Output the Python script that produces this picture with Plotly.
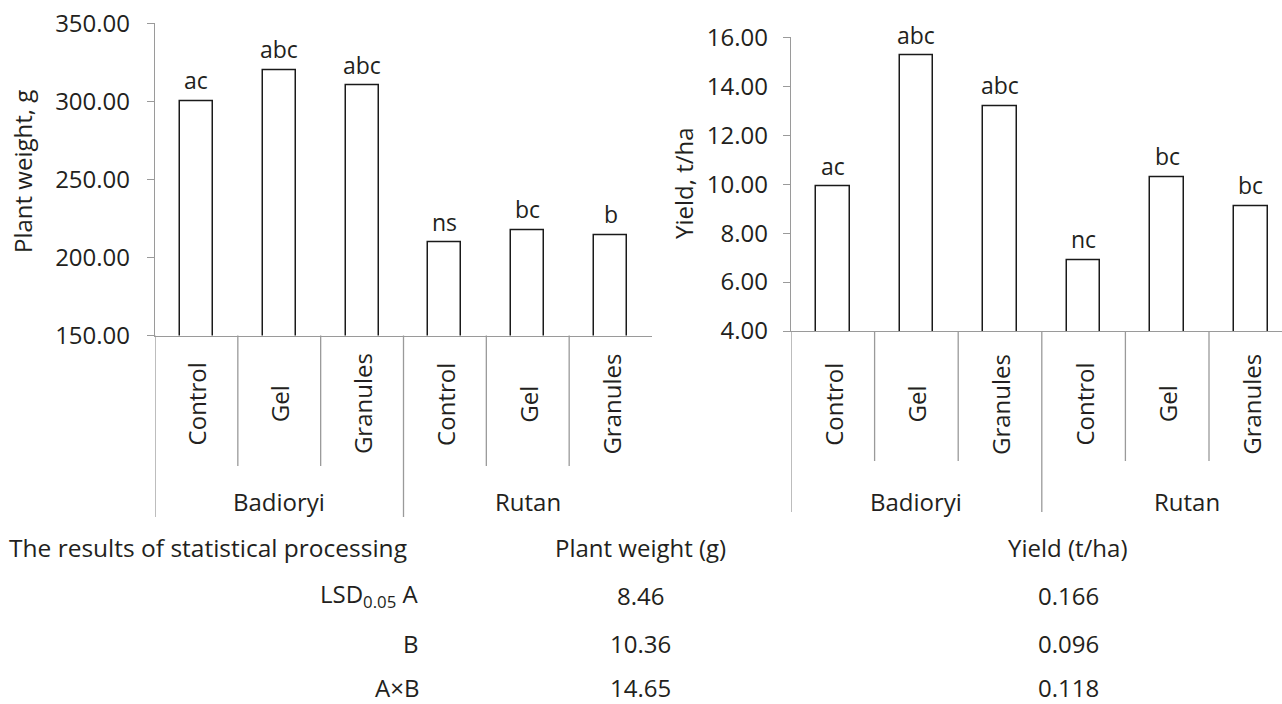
import plotly.graph_objects as go

# ---------------- data ----------------
treatments = ["Control", "Gel", "Granules", "Control", "Gel", "Granules"]
varieties = ["Badioryi", "Rutan"]
plant_weight = [300.0, 320.0, 310.0, 209.5, 217.5, 214.5]
plant_weight_letters = ["ac", "abc", "abc", "ns", "bc", "b"]
yield_tha = [9.9, 15.25, 13.2, 6.9, 10.3, 9.1]
yield_letters = ["ac", "abc", "abc", "nc", "bc", "bc"]

table_rows = ["The results of statistical processing", "LSD<sub>0.05</sub> A", "B", "A×B"]
table_col_pw = ["Plant weight (g)", "8.46", "10.36", "14.65"]
table_col_y = ["Yield (t/ha)", "0.166", "0.096", "0.118"]

# ---------------- layout helpers ----------------
W, H = 1282, 704
FONT = "Open Sans"
TXT = "#231f20"
GRID = "#9a9a9a"


def fx(p):
    return p / W


def fy(p):
    return 1 - p / H


idx = list(range(len(treatments)))

fig = go.Figure()
fig.add_trace(go.Bar(x=idx, y=plant_weight, width=0.4, xaxis="x", yaxis="y",
                     marker=dict(color="white", line=dict(color="#1a1a1a", width=1.5)),
                     showlegend=False, hoverinfo="y"))
fig.add_trace(go.Bar(x=idx, y=yield_tha, width=0.4, xaxis="x2", yaxis="y2",
                     marker=dict(color="white", line=dict(color="#1a1a1a", width=1.5)),
                     showlegend=False, hoverinfo="y"))

# pixel geometry of the two plot areas
L = dict(x0=155, x1=652, ytop=23.3, ybot=335.5)
R = dict(x0=791, ytop=37.3, ybot=331.0)
cat_w_right = 83.6
right_range_max = -0.5 + (W - R["x0"]) / cat_w_right

axis_common = dict(showgrid=False, zeroline=False, showline=True, linecolor=GRID, linewidth=1.3,
                   automargin=False)
yaxis_common = dict(ticks="outside", ticklen=7, tickcolor=GRID, tickwidth=1.3,
                    ticklabeloverflow="allow", tickformat=".2f",
                    tickfont=dict(size=24, color=TXT))

fig.update_layout(
    width=W, height=H,
    margin=dict(l=0, r=0, t=0, b=0, autoexpand=False),
    paper_bgcolor="white", plot_bgcolor="white",
    font=dict(family=FONT, size=24, color=TXT),
    bargap=0,
    xaxis=dict(domain=[fx(L["x0"]), fx(L["x1"])], range=[-0.5, 5.5], showticklabels=False,
               ticks="", anchor="y", **axis_common),
    yaxis=dict(domain=[fy(L["ybot"]), fy(L["ytop"])], range=[150, 350], dtick=50,
               ticklabelstandoff=12, anchor="x", **yaxis_common, **axis_common),
    xaxis2=dict(domain=[fx(R["x0"]), 1.0], range=[-0.5, right_range_max], showticklabels=False,
                ticks="", anchor="y2", **axis_common),
    yaxis2=dict(domain=[fy(R["ybot"]), fy(R["ytop"])], range=[4, 16], dtick=2,
                ticklabelstandoff=10, anchor="x2", **yaxis_common, **axis_common),
)

annotations = []
shapes = []


def ann(**kw):
    base = dict(showarrow=False, xanchor="center", yanchor="middle", borderpad=0,
                font=dict(size=24, color=TXT))
    base.update(kw)
    annotations.append(base)


# bar letters
for xr, yr, vals, letters in [("x", "y", plant_weight, plant_weight_letters),
                              ("x2", "y2", yield_tha, yield_letters)]:
    for i, v, t in zip(idx, vals, letters):
        ann(x=i, y=v, xref=xr, yref=yr, text=t, yanchor="bottom", yshift=4,
            font=dict(size=23, color=TXT))

# category axis decorations
for xr, ybot, sub_end, grp_end, grp_label_x in [("x", L["ybot"], 466, 517, [1, 4]),
                                                ("x2", R["ybot"], 461, 512, [1, 4.24])]:
    for i, t in zip(idx, treatments):
        ann(x=i, y=fy(404), xref=xr, yref="paper", text=t, textangle=-90)
    for gx, g in zip(grp_label_x, varieties):
        ann(x=gx, y=fy(502), xref=xr, yref="paper", text=g)
    for b in [0.5, 1.5, 3.5, 4.5]:
        shapes.append(dict(type="line", xref=xr, yref="paper", x0=b, x1=b, y0=fy(ybot), y1=fy(sub_end),
                           line=dict(color=GRID, width=1.3)))
    for b in [-0.5, 2.5]:
        shapes.append(dict(type="line", xref=xr, yref="paper", x0=b, x1=b, y0=fy(ybot), y1=fy(grp_end),
                           line=dict(color=GRID, width=1.3)))

# axis titles
ann(x=fx(22), y=fy(172), xref="paper", yref="paper", text="Plant weight, g", textangle=-90)
ann(x=fx(683), y=fy(183), xref="paper", yref="paper", text="Yield, t/ha", textangle=-90)

# statistics table
row_y = [547, 595, 643, 687]
for k, (lab, c1, c2) in enumerate(zip(table_rows, table_col_pw, table_col_y)):
    if k == 0:
        ann(x=fx(8), y=fy(row_y[k]), xref="paper", yref="paper", text=lab, xanchor="left",
            font=dict(size=24.5, color=TXT))
    else:
        ann(x=fx(420), y=fy(row_y[k]), xref="paper", yref="paper", text=lab, xanchor="right")
    ann(x=fx(640), y=fy(row_y[k]), xref="paper", yref="paper", text=c1)
    ann(x=fx(1068), y=fy(row_y[k]), xref="paper", yref="paper", text=c2)

fig.update_layout(annotations=annotations, shapes=shapes)
fig.write_html("out.html", config={"displayModeBar": False},
               post_script="document.body.style.margin='0';")
